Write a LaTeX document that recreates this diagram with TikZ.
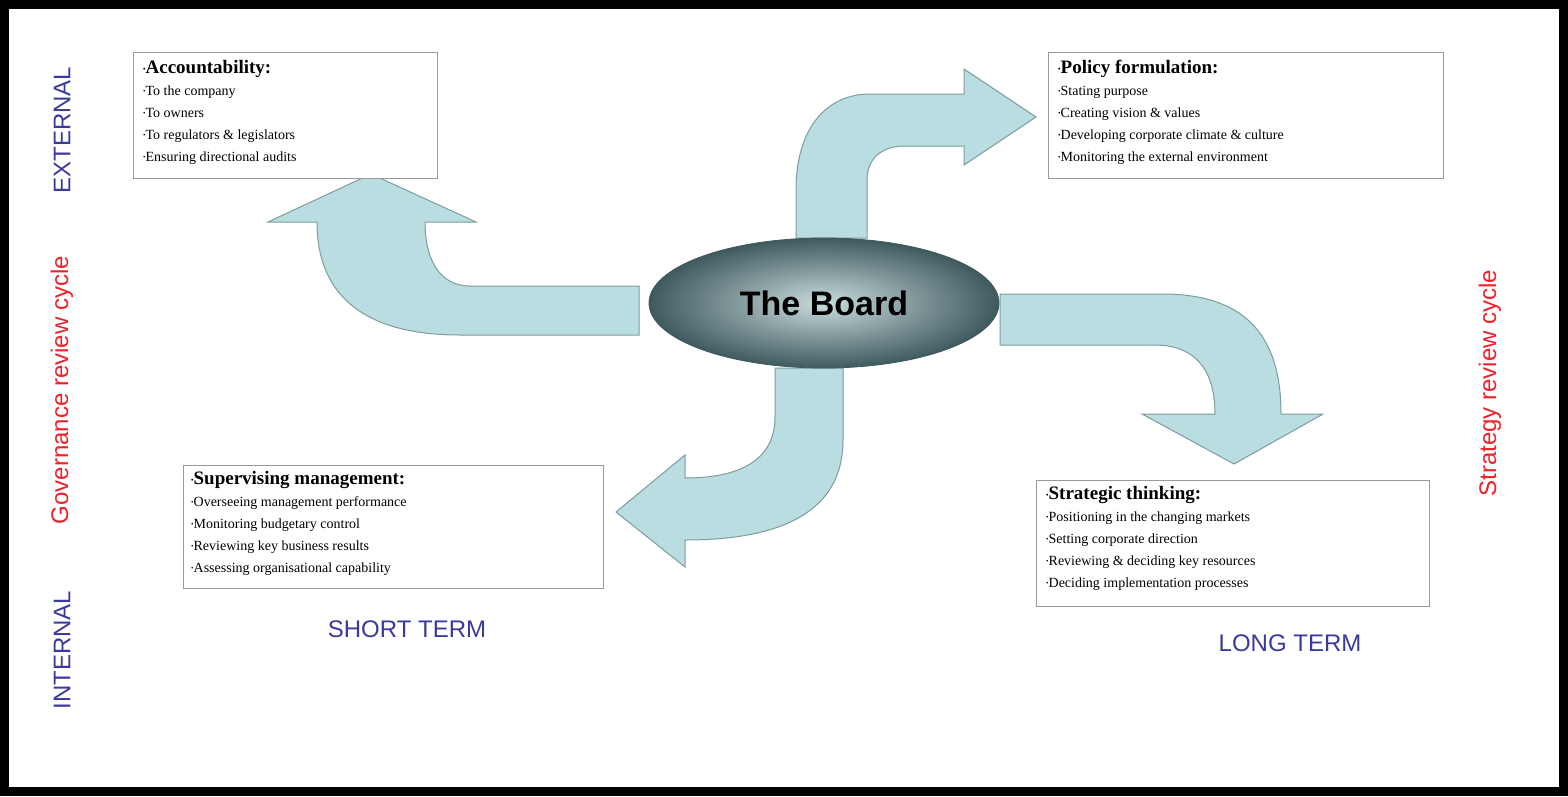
\documentclass[tikz,border=0pt]{standalone}
\usepackage{fontspec}
\usetikzlibrary{shapes.geometric}
\setmainfont{Liberation Serif}
\newfontfamily\arialf{Liberation Sans}
\newcommand{\bul}{\raisebox{0.25ex}{\fontsize{7}{7}\selectfont\textbullet}}
\begin{document}
\begin{tikzpicture}[x=1pt,y=-1pt,
  arr/.style={fill=arrowfill,draw=arrowline,line width=1pt,line join=miter},
  infobox/.style={draw=boxline,line width=1pt,fill=white,anchor=north west,inner sep=0pt},
  boxtext/.style={anchor=north west,align=left,inner sep=0pt,font=\fontsize{14}{22}\selectfont},
  side/.style={font=\arialf\fontsize{24}{26}\selectfont,rotate=90},
  term/.style={font=\arialf\fontsize{24}{26}\selectfont,text=bluetxt}]
\definecolor{arrowfill}{HTML}{B9DDE1}
\definecolor{arrowline}{HTML}{7E9C9F}
\definecolor{boxline}{HTML}{9A9A9A}
\definecolor{bluetxt}{HTML}{3A3A9C}
\definecolor{redtxt}{HTML}{F0202A}
\definecolor{boardout}{HTML}{3F5A5E}
\definecolor{boardin}{HTML}{C9DCDD}
\useasboundingbox (0,0) rectangle (1568,796);
\fill[white] (0,0) rectangle (1568,796);
\draw[line width=9pt] (4.5,4.5) rectangle (1563.5,791.5);

% arrows
\draw[arr] (639,286) -- (470,286) .. controls (440,286) and (425,260) .. (425,222) -- (476,222) -- (371,174) -- (268,222) -- (317,222) .. controls (317,300) and (370,335) .. (460,335) -- (639,335) -- cycle;
\draw[arr] (796,238) -- (796,190) .. controls (796,130) and (825,94) .. (870,94) -- (964,94) -- (964,69) -- (1036,117) -- (964,165) -- (964,146) -- (905,146) .. controls (880,146) and (867,160) .. (867,180) -- (867,238) -- cycle;
\draw[arr] (1000,294) -- (1162,294) .. controls (1240,294) and (1281,330) .. (1281,414) -- (1323,414) -- (1234,464) -- (1142,414) -- (1215,414) .. controls (1215,370) and (1195,345) .. (1155,345) -- (1000,345) -- cycle;
\draw[arr] (775,368) -- (775,417) .. controls (775,460) and (740,478) .. (685,478) -- (685,455) -- (616,512) -- (685,567) -- (685,540) .. controls (800,540) and (843,500) .. (843,440) -- (843,368) -- cycle;

% board
\node[ellipse,minimum width=350pt,minimum height=130pt,draw=boardout,line width=0.8pt,
  inner color=boardin,outer color=boardout,font=\arialf\fontsize{34}{36}\selectfont\bfseries]
  (board) at (824,303) {The Board};

% boxes
\node[infobox,minimum width=304pt,minimum height=126pt] (acc) at (133,52) {};
\node[boxtext] (acct) at (143,60) {{\fontsize{19}{22}\selectfont\bfseries\bul Accountability:}\\
\bul To the company\\ \bul To owners\\ \bul To regulators \& legislators\\ \bul Ensuring directional audits};
\node[infobox,minimum width=395pt,minimum height=126pt] (pol) at (1048,52) {};
\node[boxtext] (polt) at (1058,60) {{\fontsize{19}{22}\selectfont\bfseries\bul Policy formulation:}\\
\bul Stating purpose\\ \bul Creating vision \& values\\ \bul Developing corporate climate \& culture\\ \bul Monitoring the external environment};
\node[infobox,minimum width=420pt,minimum height=123pt] (sup) at (183,465) {};
\node[boxtext] (supt) at (191,471) {{\fontsize{19}{22}\selectfont\bfseries\bul Supervising management:}\\
\bul Overseeing management performance\\ \bul Monitoring budgetary control\\ \bul Reviewing key business results\\ \bul Assessing organisational capability};
\node[infobox,minimum width=393pt,minimum height=126pt] (str) at (1036,480) {};
\node[boxtext] (strt) at (1046,486) {{\fontsize{19}{22}\selectfont\bfseries\bul Strategic thinking:}\\
\bul Positioning in the changing markets\\ \bul Setting corporate direction\\ \bul Reviewing \& deciding key resources\\ \bul Deciding implementation processes};

% side labels
\node[side,text=bluetxt] (ext) at (62,130) {EXTERNAL};
\node[side,text=redtxt] (gov) at (62,390) {Governance review cycle};
\node[side,text=bluetxt] (int) at (62,650) {INTERNAL};
\node[side,text=redtxt] (strat) at (1490,383) {Strategy review cycle};
\node[term] (short) at (407,629) {SHORT TERM};
\node[term] (long) at (1290,643) {LONG TERM};
\end{tikzpicture}
\end{document}
